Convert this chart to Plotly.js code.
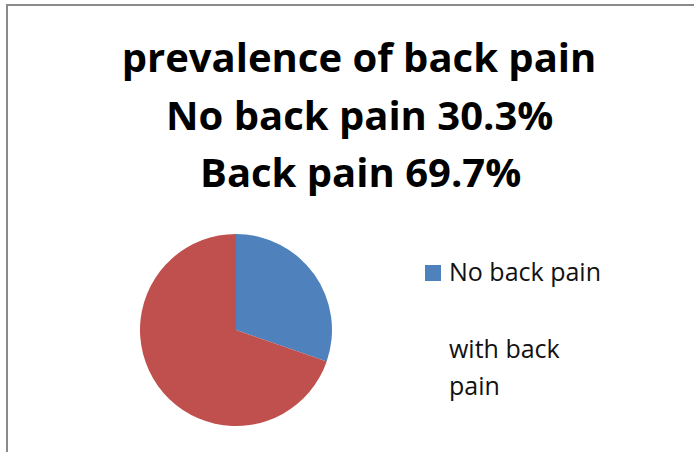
<!DOCTYPE html>
<html>
<head>
<meta charset="utf-8">
<script src="https://cdn.plot.ly/plotly-3.0.1.min.js"></script>
<style>
html,body{margin:0;padding:0;background:#fff;}
#frame{position:absolute;left:6px;top:4px;width:700px;height:460px;border-top:2px solid #8a8a8a;border-left:2px solid #8a8a8a;}
#chart{position:absolute;left:0;top:0;width:694px;height:452px;}
</style>
</head>
<body>
<div id="frame"></div>
<div id="chart"></div>
<script>
var titleLines = ["prevalence of back pain", "No back pain 30.3%", "Back pain 69.7%"];
var labels = ["No back pain", "with back pain"];
var values = [30.3, 69.7];
var colors = ["#4F81BD", "#C0504D"];

var W = 694, H = 452;
function px(x){return x / W;}
function py(y){return 1 - y / H;}
var FONT = "Open Sans, Liberation Sans, sans-serif";

var data = [{
  type: "pie",
  labels: labels,
  values: values,
  marker: {colors: colors, line: {width: 0}},
  sort: false,
  direction: "clockwise",
  rotation: 0,
  textinfo: "none",
  hoverinfo: "label+percent",
  domain: {x: [px(140), px(332)], y: [py(426), py(234)]},
  showlegend: false
}];

// wrapped legend label lines for the second entry
var label2Lines = ["with back", "pain"];

var annotations = [
  {text: "<b>" + titleLines[1] + "</b>", x: px(359), y: py(114), xref: "paper", yref: "paper", showarrow: false,
   xanchor: "center", yanchor: "middle", font: {family: FONT, size: 40, color: "#000"}},
  {text: "<b>" + titleLines[2] + "</b>", x: px(360), y: py(172), xref: "paper", yref: "paper", showarrow: false,
   xanchor: "center", yanchor: "middle", font: {family: FONT, size: 40, color: "#000"}},
  {text: labels[0], x: px(447), y: py(271), xref: "paper", yref: "paper",
   showarrow: false, xanchor: "left", yanchor: "middle", font: {family: FONT, size: 25, color: "#111"}},
  {text: label2Lines[0], x: px(447), y: py(348), xref: "paper", yref: "paper", showarrow: false,
   xanchor: "left", yanchor: "middle", font: {family: FONT, size: 25, color: "#111"}},
  {text: label2Lines[1], x: px(447), y: py(385), xref: "paper", yref: "paper", showarrow: false,
   xanchor: "left", yanchor: "middle", font: {family: FONT, size: 25, color: "#111"}}
];

var layout = {
  width: W, height: H,
  margin: {l: 0, r: 0, t: 0, b: 0},
  paper_bgcolor: "rgba(0,0,0,0)",
  plot_bgcolor: "rgba(0,0,0,0)",
  title: {text: "<b>" + titleLines[0] + "</b>", x: px(359), xanchor: "center", y: py(58), yanchor: "middle",
          font: {family: FONT, size: 40, color: "#000"}},
  annotations: annotations,
  shapes: [{type: "rect", xref: "paper", yref: "paper", x0: px(425), x1: px(441), y0: py(281), y1: py(265),
            fillcolor: colors[0], line: {width: 0}}]
};

Plotly.newPlot("chart", data, layout, {displayModeBar: false, staticPlot: true});
</script>
</body>
</html>
